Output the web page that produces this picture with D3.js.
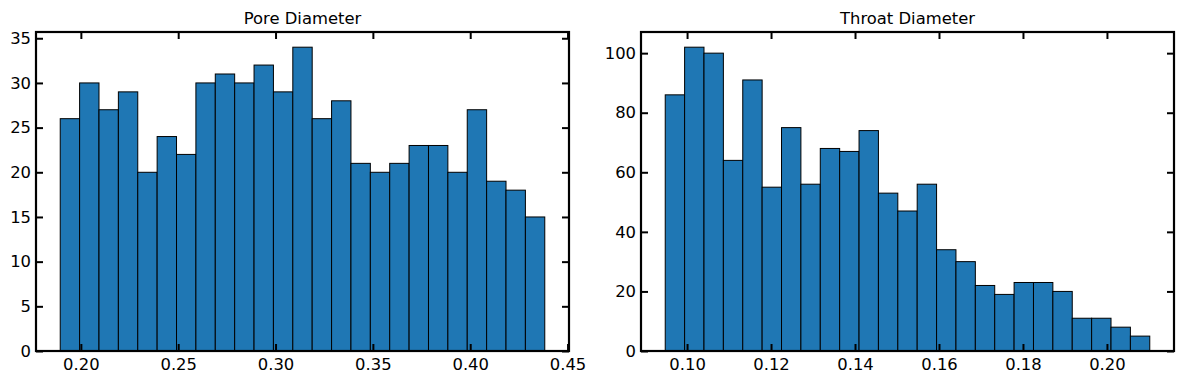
<!DOCTYPE html>
<html>
<head>
<meta charset="utf-8">
<script src="https://cdn.jsdelivr.net/npm/d3@7"></script>
<style>
  html, body { margin: 0; padding: 0; background: #fff; }
  svg { display: block; }
  text { font-family: "DejaVu Sans", sans-serif; fill: #000; }
</style>
</head>
<body>
<svg id="chart" width="1183" height="384"></svg>
<script>
// ---- Data ----
const poreTitle = "Pore Diameter";
const poreCounts = [26, 30, 27, 29, 20, 24, 22, 30, 31, 30, 32, 29, 34, 26, 28, 21, 20, 21, 23, 23, 20, 27, 19, 18, 15];
const poreRange = [0.1894, 0.4383];
const poreXTicks = [0.20, 0.25, 0.30, 0.35, 0.40, 0.45];
const poreYTicks = [0, 5, 10, 15, 20, 25, 30, 35];

const throatTitle = "Throat Diameter";
const throatCounts = [86, 102, 100, 64, 91, 55, 75, 56, 68, 67, 74, 53, 47, 56, 34, 30, 22, 19, 23, 23, 20, 11, 11, 8, 5];
const throatRange = [0.0948, 0.2102];
const throatXTicks = [0.10, 0.12, 0.14, 0.16, 0.18, 0.20];
const throatYTicks = [0, 20, 40, 60, 80, 100];

const svg = d3.select("#chart");

function drawHist(cfg) {
  const { left, right, top, bottom, counts, range, xTicks, yTicks, title } = cfg;
  const n = counts.length;
  const binW = (range[1] - range[0]) / n;
  const bins = counts.map((c, i) => ({ x0: range[0] + i * binW, x1: range[0] + (i + 1) * binW, c }));
  const span = range[1] - range[0];
  const x = d3.scaleLinear().domain([range[0] - 0.05 * span, range[1] + 0.05 * span]).range([left, right]);
  const y = d3.scaleLinear().domain([0, d3.max(counts) * 1.05]).range([bottom, top]);

  const g = svg.append("g");

  // bars
  g.append("g").selectAll("rect").data(bins).join("rect")
    .attr("x", d => x(d.x0))
    .attr("y", d => y(d.c))
    .attr("width", d => x(d.x1) - x(d.x0))
    .attr("height", d => y(0) - y(d.c))
    .attr("fill", "#1f77b4")
    .attr("stroke", "#000")
    .attr("stroke-width", 1);

  const fmtX = d3.format(".2f");
  const tickLen = 7;
  const fs = "16.4px";
  const style = sel => {
    sel.select(".domain").remove();
    sel.selectAll(".tick line").attr("stroke", "#000").attr("stroke-width", 2);
    sel.selectAll(".tick text").attr("font-size", fs).attr("font-family", "DejaVu Sans").attr("fill", "#000");
  };

  // bottom axis
  const ax = g.append("g").attr("transform", `translate(0,${bottom})`)
    .call(d3.axisBottom(x).tickValues(xTicks).tickFormat(fmtX).tickSizeInner(-tickLen).tickSizeOuter(0).tickPadding(7));
  style(ax);
  // top axis (ticks only)
  const axT = g.append("g").attr("transform", `translate(0,${top})`)
    .call(d3.axisTop(x).tickValues(xTicks).tickFormat("").tickSizeInner(-tickLen).tickSizeOuter(0));
  style(axT);
  // left axis
  const ay = g.append("g").attr("transform", `translate(${left},0)`)
    .call(d3.axisLeft(y).tickValues(yTicks).tickFormat(d3.format("d")).tickSizeInner(-tickLen).tickSizeOuter(0).tickPadding(5));
  style(ay);
  // right axis (ticks only)
  const ayR = g.append("g").attr("transform", `translate(${right},0)`)
    .call(d3.axisRight(y).tickValues(yTicks).tickFormat("").tickSizeInner(-tickLen).tickSizeOuter(0));
  style(ayR);

  // frame
  g.append("rect")
    .attr("x", left).attr("y", top)
    .attr("width", right - left).attr("height", bottom - top)
    .attr("fill", "none").attr("stroke", "#000").attr("stroke-width", 2.2);

  // title
  g.append("text")
    .attr("x", (left + right) / 2).attr("y", top - 8)
    .attr("text-anchor", "middle")
    .attr("font-size", fs)
    .text(title);
}

drawHist({ left: 36, right: 569, top: 32, bottom: 351,
  counts: poreCounts, range: poreRange, xTicks: poreXTicks, yTicks: poreYTicks, title: poreTitle });
drawHist({ left: 641, right: 1174, top: 32, bottom: 351,
  counts: throatCounts, range: throatRange, xTicks: throatXTicks, yTicks: throatYTicks, title: throatTitle });
</script>
</body>
</html>
